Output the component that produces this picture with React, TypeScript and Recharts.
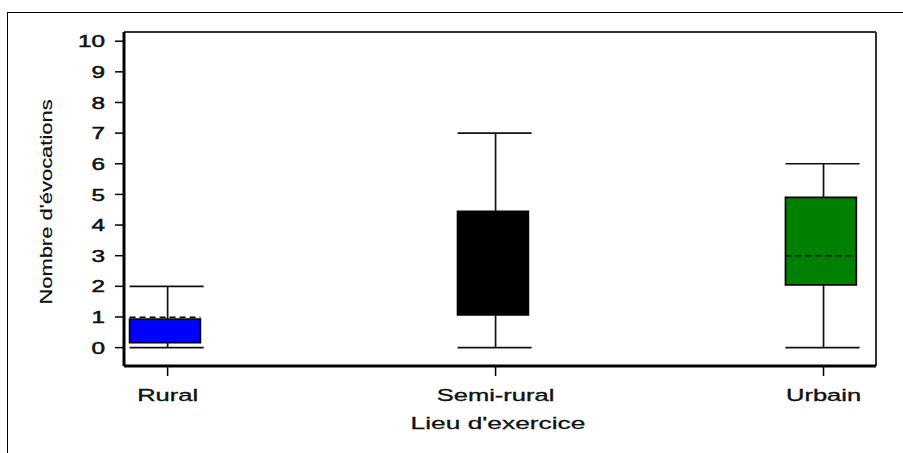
import React from 'react';
import { ComposedChart, XAxis, YAxis, ReferenceArea, ReferenceLine, Scatter } from 'recharts';

// ---- data ----
const categories = ['Rural', 'Semi-rural', 'Urbain'];
const whiskerMin = [0, 0, 0];
const quartile1 = [0.16, 1.07, 2.05];
const medians = [0.99, 2.0, 3.0];
const quartile3 = [0.93, 4.45, 4.9];
const whiskerMax = [2, 7, 6];
const boxColors = ['#0000FF', '#000000', '#008000'];
const yTicks = [0, 1, 2, 3, 4, 5, 6, 7, 8, 9, 10];
const xTicks = [0, 1, 2];
const yTitle = "Nombre d'évocations";
const xTitle = "Lieu d'exercice";

// ---- layout / style constants ----
const FONT = "'Liberation Sans', Arial, Helvetica, sans-serif";
const TEXT = '#111111';
const X_DOMAIN: [number, number] = [-0.133, 2.16];
const Y_DOMAIN: [number, number] = [-0.6, 10.3];
const BOX_LEFT = 0.116;
const BOX_RIGHT = 0.1;
const CAP_LEFT = 0.116;
const CAP_RIGHT = 0.11;

const points = categories.map((c, i) => ({ x: i, y: medians[i], name: c }));

const YTick = (props: any) => {
  const { x, y, payload } = props;
  return (
    <g transform={`translate(${x},${y}) scale(1.43,1)`}>
      <text x={0} y={0} dy="0.36em" textAnchor="end" fontFamily={FONT} fontSize={17} fill={TEXT} stroke={TEXT} strokeWidth={0.5}>
        {payload.value}
      </text>
    </g>
  );
};

const XTick = (props: any) => {
  const { x, y, payload } = props;
  return (
    <g transform={`translate(${x},${y}) scale(1.5,1)`}>
      <text x={0} y={0} dy="0.71em" textAnchor="middle" fontFamily={FONT} fontSize={17} fill={TEXT} stroke={TEXT} strokeWidth={0.35}>
        {categories[payload.value]}
      </text>
    </g>
  );
};

const XTitle = (props: any) => {
  const vb = props.viewBox || {};
  const cx = vb.x + vb.width / 2 - 2;
  const by = vb.y + 63;
  return (
    <g transform={`translate(${cx},${by}) scale(1.55,1)`}>
      <text x={0} y={0} textAnchor="middle" fontFamily={FONT} fontSize={17} fill={TEXT} stroke={TEXT} strokeWidth={0.3}>
        {xTitle}
      </text>
    </g>
  );
};

const YTitle = (props: any) => {
  const vb = props.viewBox || {};
  const bx = vb.x + 28;
  const cy = vb.y + vb.height / 2 + 3;
  return (
    <g transform={`translate(${bx},${cy}) rotate(-90) scale(1.29,1)`}>
      <text x={0} y={0} textAnchor="middle" fontFamily={FONT} fontSize={17} fill={TEXT} stroke={TEXT} strokeWidth={0.2}>
        {yTitle}
      </text>
    </g>
  );
};

export default function App() {
  return (
    <div style={{ position: 'absolute', left: 0, top: 0, width: 903, height: 453, background: '#fff' }}>
      <div
        style={{
          position: 'absolute',
          left: 7,
          top: 12,
          width: 903 - 7,
          height: 453 - 12,
          borderLeft: '1px solid #000',
          borderTop: '1px solid #000',
          boxSizing: 'border-box',
        }}
      />
      <div style={{ position: 'absolute', left: 0, top: 0 }}>
        <ComposedChart width={903} height={453} margin={{ top: 32, right: 27, bottom: 17, left: 24 }}>
          <XAxis
            dataKey="x"
            type="number"
            domain={X_DOMAIN}
            ticks={xTicks}
            allowDataOverflow
            height={70}
            axisLine={{ stroke: '#000', strokeWidth: 3 }}
            tickLine={{ stroke: '#000', strokeWidth: 1.5 }}
            tickSize={10}
            tickMargin={13}
            tick={<XTick />}
            label={{ content: <XTitle /> }}
          />
          <YAxis
            type="number"
            domain={Y_DOMAIN}
            ticks={yTicks}
            allowDataOverflow
            width={100}
            axisLine={{ stroke: '#000', strokeWidth: 3 }}
            tickLine={{ stroke: '#000', strokeWidth: 1.5 }}
            tickSize={9}
            tickMargin={10}
            tick={<YTick />}
            label={{ content: <YTitle /> }}
          />
          <ReferenceLine y={Y_DOMAIN[1]} stroke="#333" strokeWidth={2} ifOverflow="visible" />
          <ReferenceLine x={X_DOMAIN[1]} stroke="#333" strokeWidth={2} ifOverflow="visible" />
          {categories.map((c, i) => (
            <ReferenceLine
              key={`wu-${c}`}
              segment={[{ x: i, y: quartile3[i] }, { x: i, y: whiskerMax[i] }]}
              stroke="#111"
              strokeWidth={1.7}
              ifOverflow="visible"
            />
          ))}
          {categories.map((c, i) => (
            <ReferenceLine
              key={`wl-${c}`}
              segment={[{ x: i, y: quartile1[i] }, { x: i, y: whiskerMin[i] }]}
              stroke="#111"
              strokeWidth={1.7}
              ifOverflow="visible"
            />
          ))}
          {categories.map((c, i) => (
            <ReferenceLine
              key={`cu-${c}`}
              segment={[{ x: i - CAP_LEFT, y: whiskerMax[i] }, { x: i + CAP_RIGHT, y: whiskerMax[i] }]}
              stroke="#111"
              strokeWidth={1.7}
              ifOverflow="visible"
            />
          ))}
          {categories.map((c, i) => (
            <ReferenceLine
              key={`cl-${c}`}
              segment={[{ x: i - CAP_LEFT, y: whiskerMin[i] }, { x: i + CAP_RIGHT, y: whiskerMin[i] }]}
              stroke="#111"
              strokeWidth={1.7}
              ifOverflow="visible"
            />
          ))}
          {categories.map((c, i) => (
            <ReferenceArea
              key={`box-${c}`}
              x1={i - BOX_LEFT}
              x2={i + BOX_RIGHT}
              y1={quartile1[i]}
              y2={quartile3[i]}
              fill={boxColors[i]}
              fillOpacity={1}
              stroke="#000"
              strokeWidth={1.7}
              ifOverflow="visible"
            />
          ))}
          {categories.map((c, i) => (
            <ReferenceLine
              key={`med-${c}`}
              segment={[{ x: i - BOX_LEFT, y: medians[i] }, { x: i + BOX_RIGHT, y: medians[i] }]}
              stroke="#000"
              strokeWidth={1.5}
              strokeDasharray="6 4"
              ifOverflow="visible"
            />
          ))}
          <Scatter data={points} dataKey="y" isAnimationActive={false} shape={() => <g />} />
        </ComposedChart>
      </div>
    </div>
  );
}
